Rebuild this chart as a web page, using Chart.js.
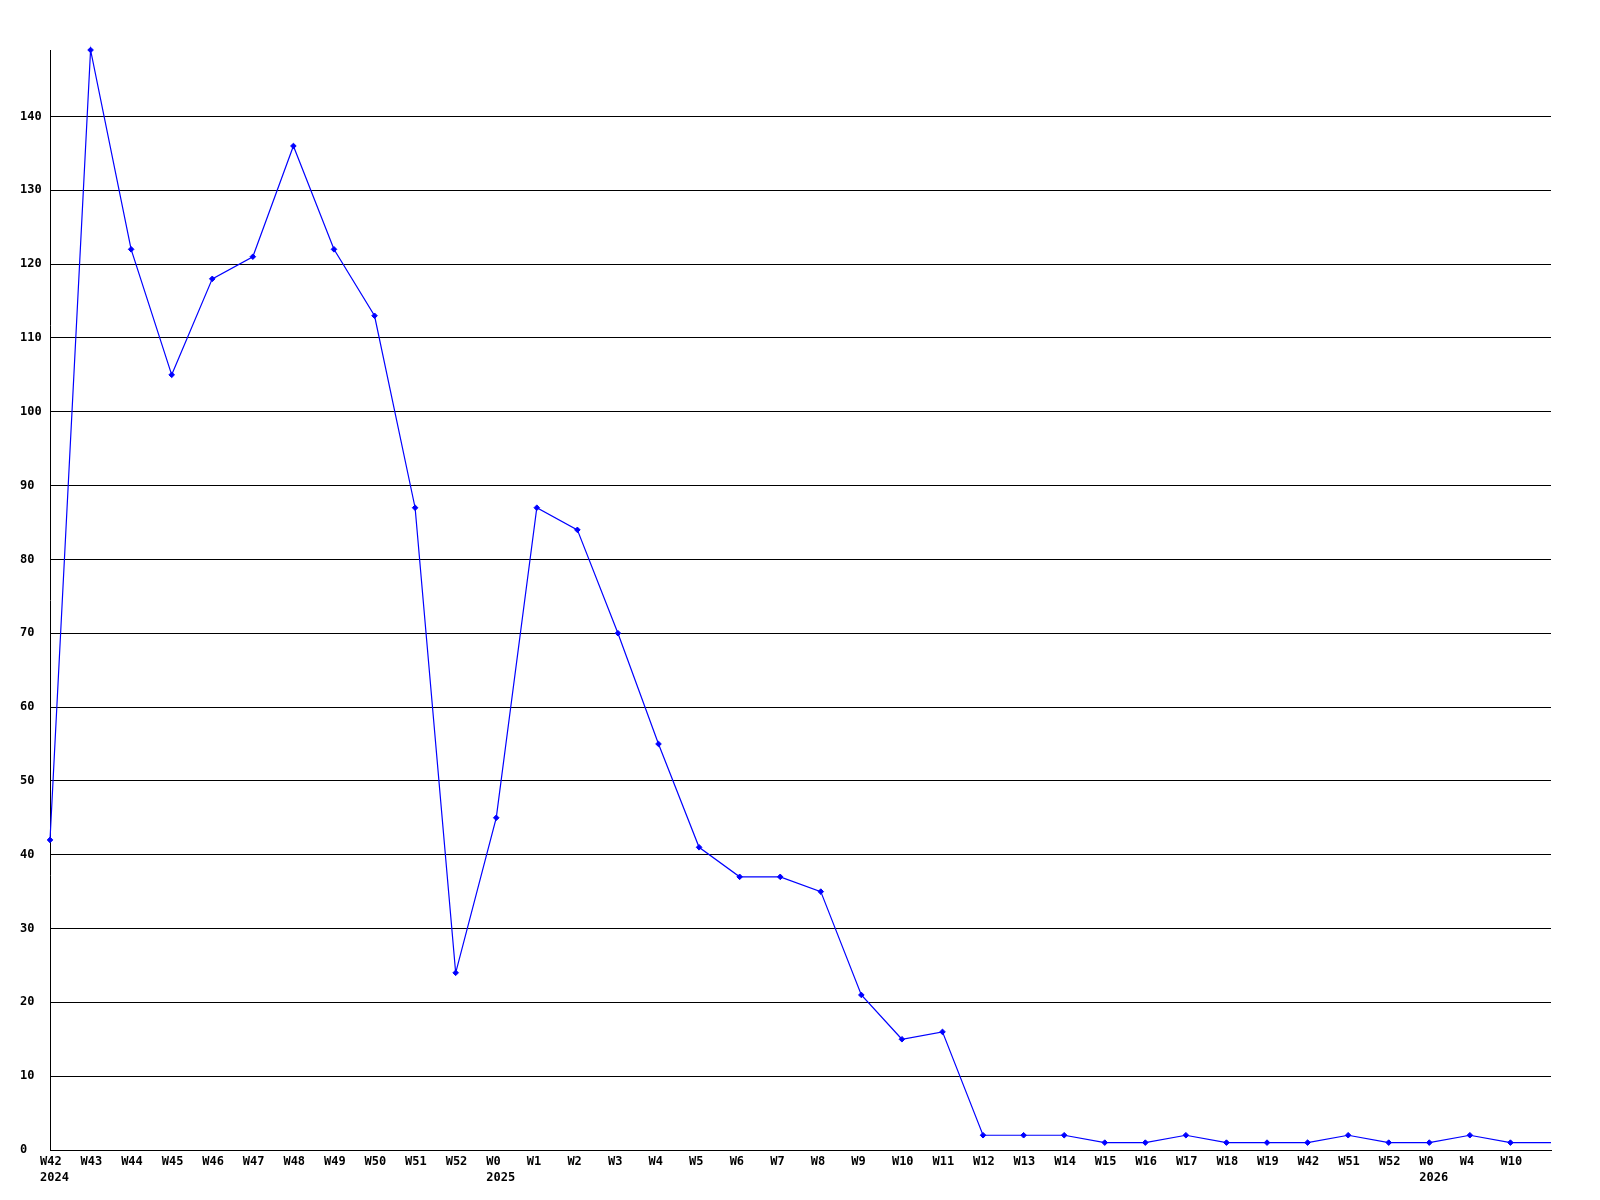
<!DOCTYPE html>
<html>
<head>
<meta charset="utf-8">
<script src="https://cdn.jsdelivr.net/npm/chart.js@4.4.1/dist/chart.umd.min.js"></script>
<style>
html,body{margin:0;padding:0;background:#fff;}
#wrap{width:1600px;height:1200px;}
</style>
</head>
<body>
<div id="wrap"><canvas id="c" width="1600" height="1200"></canvas></div>
<script>
const weekLabels = ['W42','W43','W44','W45','W46','W47','W48','W49','W50','W51','W52',
  'W0','W1','W2','W3','W4','W5','W6','W7','W8','W9','W10','W11','W12','W13','W14','W15','W16','W17','W18','W19',
  'W42','W51','W52','W0','W4','W10',''];
const counts = [42,149,122,105,118,121,136,122,113,87,24,
  45,87,84,70,55,41,37,37,35,21,15,16,2,2,2,1,1,2,1,1,
  1,2,1,1,2,1,1];
const yearIndex = [0, 11, 34];
const yearLabels = ['2024', '2025', '2026'];
const yTickValues = [0,10,20,30,40,50,60,70,80,90,100,110,120,130,140];
const yMax = 149;

const axisLabels = weekLabels.map((w, i) => {
  const k = yearIndex.indexOf(i);
  return k >= 0 ? [w, yearLabels[k]] : w;
});

const FONT = {family: '"DejaVu Sans Mono", monospace', size: 12, weight: 'bold', lineHeight: '16px'};

new Chart(document.getElementById('c'), {
  type: 'line',
  data: {
    labels: axisLabels,
    datasets: [{
      data: counts,
      borderColor: '#0000ff',
      backgroundColor: '#0000ff',
      borderWidth: 1.2,
      tension: 0,
      fill: false,
      clip: false,
      pointStyle: 'rectRot',
      pointRadius: (c) => (weekLabels[c.dataIndex] === '' ? 0 : 2.8),
      pointBorderWidth: 1,
      pointBorderColor: '#0000ff',
      pointBackgroundColor: '#0000ff'
    }]
  },
  options: {
    responsive: false,
    animation: false,
    events: [],
    layout: {padding: {left: 20, top: 50, right: 49, bottom: 0}},
    plugins: {legend: {display: false}, tooltip: {enabled: false}, title: {display: false}},
    scales: {
      x: {
        type: 'category',
        offset: false,
        grid: {display: false, drawTicks: false},
        border: {display: true, color: '#000', width: 1},
        ticks: {
          autoSkip: false, maxRotation: 0, minRotation: 0,
          align: 'start', labelOffset: -10,
          color: '#000', font: FONT, padding: 4
        },
        afterFit(scale) { scale.height = 50; }
      },
      y: {
        min: 0,
        max: yMax,
        grid: {color: '#000', lineWidth: 1, drawTicks: false},
        border: {display: true, color: '#000', width: 1},
        ticks: {color: '#000', font: FONT, crossAlign: 'far', padding: 10},
        afterBuildTicks(scale) { scale.ticks = yTickValues.map(v => ({value: v})); },
        afterFit(scale) { scale.width = 30; }
      }
    }
  }
});
</script>
</body>
</html>
